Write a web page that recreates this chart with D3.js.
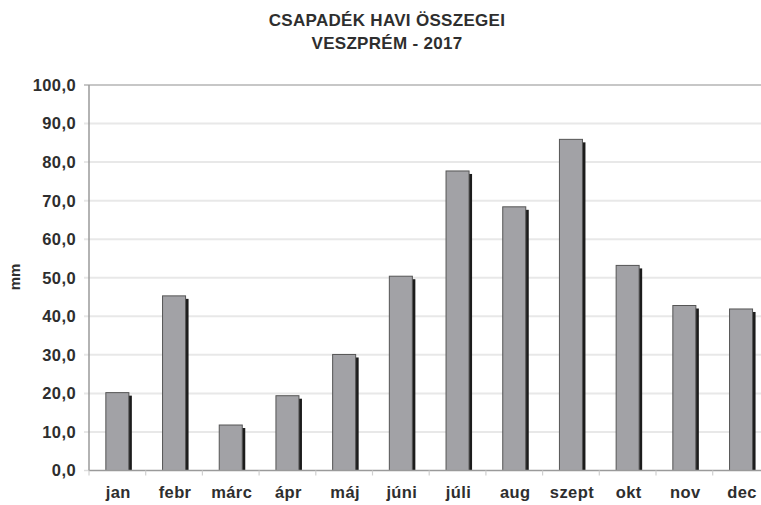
<!DOCTYPE html>
<html><head><meta charset="utf-8">
<script src="https://cdn.jsdelivr.net/npm/d3@7"></script>
<style>
html,body{margin:0;padding:0;background:#fff;}
svg{display:block;}
text{font-family:"Liberation Sans",Arial,sans-serif;font-weight:bold;fill:#2e2e2e;}
</style></head>
<body>
<svg id="c" width="761" height="505"></svg>
<script>
const months = ["jan","febr","márc","ápr","máj","júni","júli","aug","szept","okt","nov","dec"];
const values = [20.2,45.3,11.8,19.4,30.1,50.4,77.7,68.4,85.9,53.2,42.8,41.9];
const yTicks = [0,10,20,30,40,50,60,70,80,90,100];
const titleLines = ["CSAPADÉK HAVI ÖSSZEGEI","VESZPRÉM - 2017"];
const yLabel = "mm";

(function(){
const svg = d3.select("#c");
const pLeft = 89, catW = 56.7, pTop = 85, pBottom = 470.5;
const x = d3.scaleBand().domain(months).range([pLeft, pLeft + catW*months.length])
  .paddingInner(0.594).paddingOuter(0.297);
const y = d3.scaleLinear().domain([0,100]).range([pBottom, pTop]);
const pRight = pLeft + catW*months.length;

// gridlines
svg.append("g").selectAll("line").data(yTicks.filter(d=>d>0 && d<100)).join("line")
  .attr("x1", pLeft-5).attr("x2", pRight).attr("y1", d=>y(d)).attr("y2", d=>y(d))
  .attr("stroke", "#e8e8e8").attr("stroke-width", 2);
// top border
svg.append("line").attr("x1", pLeft-5).attr("x2", pRight).attr("y1", y(100)).attr("y2", y(100))
  .attr("stroke", "#b4b4b4").attr("stroke-width", 1.5);
svg.append("line").attr("x1", pLeft-5).attr("x2", pLeft).attr("y1", y(0)).attr("y2", y(0))
  .attr("stroke", "#ddd").attr("stroke-width", 1.5);

// bars: shadow then face
const bw = x.bandwidth();
svg.append("g").selectAll("rect").data(values).join("rect")
  .attr("x", (d,i)=>x(months[i])+3).attr("y", d=>y(d)+3)
  .attr("width", bw).attr("height", d=>pBottom-y(d)-3)
  .attr("fill", "#1c1c1c");
svg.append("g").selectAll("rect").data(values).join("rect")
  .attr("x", (d,i)=>x(months[i])).attr("y", d=>y(d))
  .attr("width", bw).attr("height", d=>pBottom-y(d))
  .attr("fill", "#a2a2a6").attr("stroke", "#555").attr("stroke-width", 1);

// axes lines
svg.append("line").attr("x1", pLeft).attr("x2", pLeft).attr("y1", pTop).attr("y2", pBottom)
  .attr("stroke", "#9a9a9a").attr("stroke-width", 1.5);
svg.append("line").attr("x1", pLeft).attr("x2", pRight).attr("y1", pBottom).attr("y2", pBottom)
  .attr("stroke", "#9a9a9a").attr("stroke-width", 1.5);
// x tick marks at category boundaries
svg.append("g").selectAll("line").data(d3.range(months.length+1)).join("line")
  .attr("x1", i=>pLeft+i*catW).attr("x2", i=>pLeft+i*catW)
  .attr("y1", pBottom).attr("y2", pBottom+5)
  .attr("stroke", "#d0d0d0").attr("stroke-width", 1.2);

// y tick labels
const fmt = d => d3.format(".1f")(d).replace(".", ",");
svg.append("g").selectAll("text").data(yTicks).join("text")
  .attr("x", 76).attr("y", d=>y(d)).attr("dy", "0.36em")
  .attr("text-anchor", "end").style("font-size", "16.5px").style("letter-spacing","0.4px")
  .text(fmt);
// x labels
svg.append("g").selectAll("text").data(months).join("text")
  .attr("x", d=>x(d)+bw/2+1).attr("y", 498)
  .attr("text-anchor", "middle").style("font-size", "16.5px").style("letter-spacing","0.4px")
  .text(d=>d);
// y label
svg.append("text").attr("transform", "translate(19.5,277) rotate(-90)")
  .attr("text-anchor", "middle").style("font-size", "15px").text(yLabel);
// title
svg.append("g").selectAll("text").data(titleLines).join("text")
  .attr("x", 387).attr("y", (d,i)=>26 + i*23)
  .attr("text-anchor", "middle").style("font-size", "17px").style("letter-spacing","0.3px")
  .text(d=>d);
})();
</script>
</body></html>
